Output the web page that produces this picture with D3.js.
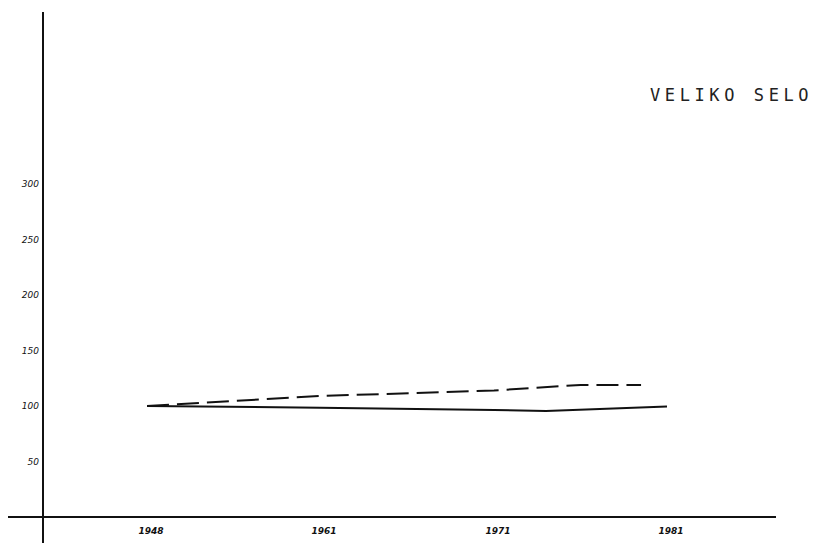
<!DOCTYPE html>
<html>
<head>
<meta charset="utf-8">
<script src="https://cdn.jsdelivr.net/npm/d3@7"></script>
<style>
  html, body { margin: 0; padding: 0; background: #fff; }
</style>
</head>
<body>
<script>
const years = [1948, 1961, 1971, 1981];
const yTicks = [50, 100, 150, 200, 250, 300];

// solid line
const solidYears = [1948, 1961, 1971, 1974, 1981];
const solidValues = [100, 98.5, 96.5, 95.5, 99.5];

// dashed line
const dashedYears = [1948, 1961, 1971, 1976, 1979.5];
const dashedValues = [100, 109, 114, 119, 119];

const title = "VELIKO SELO";

const width = 818;
const height = 543;

const svg = d3.select("body")
    .append("svg")
    .attr("width", width)
    .attr("height", height);

// the year axis is drawn with equal spacing, not by calendar time
const x = d3.scaleLinear()
    .domain(years)
    .range([147, 320, 494, 667]);

const y = d3.scaleLinear()
    .domain([0, 300])
    .range([517, 184]);

// axes
svg.append("line")
    .attr("x1", 43)
    .attr("x2", 43)
    .attr("y1", 12)
    .attr("y2", height)
    .attr("stroke", "#111")
    .attr("stroke-width", 2);

svg.append("line")
    .attr("x1", 8)
    .attr("x2", 776)
    .attr("y1", y(0))
    .attr("y2", y(0))
    .attr("stroke", "#111")
    .attr("stroke-width", 2);

svg.append("g")
    .selectAll("text")
    .data(yTicks)
    .enter()
    .append("text")
    .attr("x", 39)
    .attr("y", (d) => (y(d)))
    .attr("dy", "0.35em")
    .attr("text-anchor", "end")
    .attr("font-family", "DejaVu Sans")
    .attr("font-style", "italic")
    .attr("font-size", 9)
    .attr("fill", "#111")
    .text((d) => (d));

svg.append("g")
    .selectAll("text")
    .data(years)
    .enter()
    .append("text")
    .attr("x", (d) => (x(d) + 4))
    .attr("y", 531)
    .attr("dy", "0.35em")
    .attr("text-anchor", "middle")
    .attr("font-family", "DejaVu Sans")
    .attr("font-style", "italic")
    .attr("font-weight", "bold")
    .attr("font-size", 9)
    .attr("fill", "#111")
    .text((d) => (d));

const line = d3.line()
    .x((d) => (x(d[0])))
    .y((d) => (y(d[1])));

svg.append("path")
    .datum(d3.zip(solidYears, solidValues))
    .attr("d", line)
    .attr("fill", "none")
    .attr("stroke", "#111")
    .attr("stroke-width", 2);

svg.append("path")
    .datum(d3.zip(dashedYears, dashedValues))
    .attr("d", line)
    .attr("fill", "none")
    .attr("stroke", "#111")
    .attr("stroke-width", 2)
    .attr("stroke-dasharray", "22,8");

svg.append("text")
    .attr("x", 650)
    .attr("y", 101)
    .attr("font-family", "DejaVu Sans Mono")
    .attr("font-size", 17)
    .attr("letter-spacing", 4.6)
    .attr("fill", "#222")
    .text(title);
</script>
</body>
</html>
